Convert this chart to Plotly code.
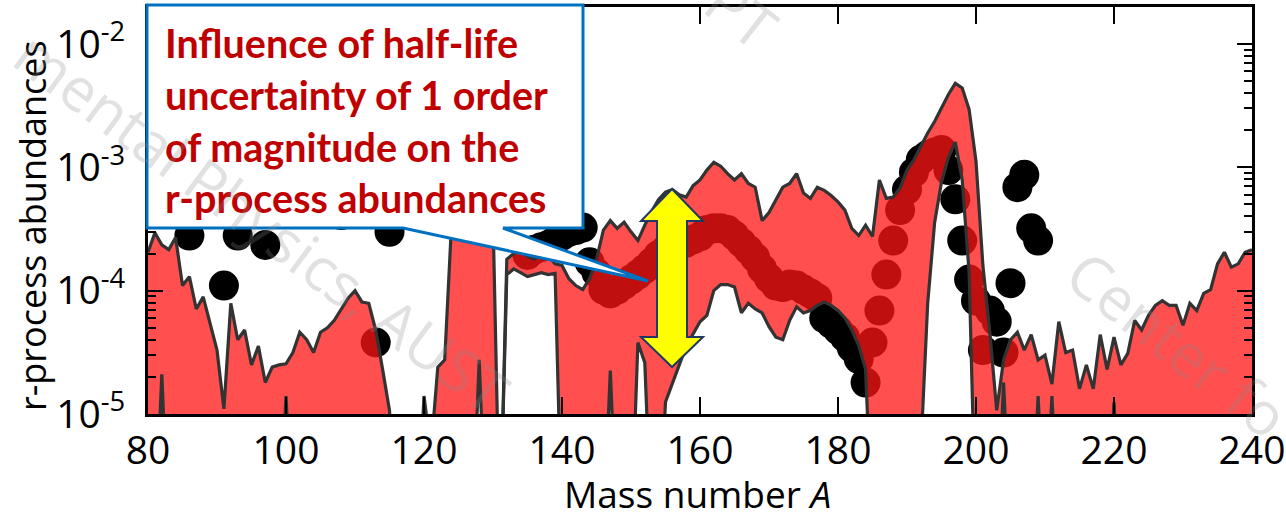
import plotly.graph_objects as go

# ---------------- data ----------------
mass_numbers = list(range(80, 241))

# upper edge of the abundance band (half-lives divided by 10)
upper = [
    2.05e-4, 2.95e-4, 2.35e-4, 2.15e-4, 2.7e-4, 1.1e-4, 1.3e-4, 7.1e-5, 8.9e-5, 5.5e-5,   # 80-89
    3.3e-5, 1.1e-5, 7.9e-5, 4.0e-5, 4.8e-5, 2.5e-5, 3.55e-5, 1.8e-5, 2.4e-5, 2.5e-5,    # 90-99
    2.55e-5, 3.15e-5, 4.6e-5, 4.0e-5, 3.15e-5, 4.6e-5, 5.0e-5, 5.75e-5, 7.1e-5, 8.7e-5, # 100-109
    1.0e-4, 8.1e-5, 7.9e-5, 4.8e-5, 2.3e-5, 1.07e-5, 1e-6, 1e-6, 1e-6, 1e-6,            # 110-119
    1.4e-5, 5e-6, 2.4e-5, 2.75e-5, 3.55e-4, 6e-4, 8e-4, 1.1e-3, 1.4e-3, 1.0e-3,         # 120-129
    4e-4, 1e-6, 1.8e-4, 2.0e-4, 2.15e-4, 1.9e-4, 1.8e-4, 2.0e-4, 1.9e-4, 1.65e-4,       # 130-139
    1.6e-4, 1.25e-4, 1.1e-4, 1.02e-4, 1.25e-4, 1.8e-4, 3.1e-4, 3.7e-4, 3.2e-4, 3.6e-4,  # 140-149
    3.0e-4, 2.55e-4, 3.4e-4, 4.4e-4, 5.5e-4, 6.3e-4, 6.6e-4, 6.0e-4, 5.75e-4, 7.1e-4,  # 150-159
    7.9e-4, 9.5e-4, 1.1e-3, 1.02e-3, 8.9e-4, 7.9e-4, 8.9e-4, 7.4e-4, 6.9e-4, 3.7e-4,   # 160-169
    4.3e-4, 5.5e-4, 6.9e-4, 7.4e-4, 8.9e-4, 6.2e-4, 5.6e-4, 6.9e-4, 6.5e-4, 5.9e-4,    # 170-179
    5.25e-4, 4.5e-4, 3.2e-4, 2.8e-4, 3.4e-4, 2.75e-4, 7.9e-4, 5.6e-4, 5.75e-4, 6.8e-4, # 180-189
    9.5e-4, 1.15e-3, 1.5e-3, 1.9e-3, 2.35e-3, 3.0e-3, 3.9e-3, 4.8e-3, 4.4e-3, 2.95e-3, # 190-199
    1.12e-3, 1.6e-4, 4.6e-5, 1.07e-5, 2.75e-5, 4.0e-5, 4.6e-5, 3.3e-5, 4.4e-5, 2.75e-5, # 200-209
    3.0e-5, 1.75e-5, 5.6e-5, 3.15e-5, 3.3e-5, 1.6e-5, 2.5e-5, 1.6e-5, 4.4e-5, 2.3e-5,  # 210-219
    4.2e-5, 2.5e-5, 3.1e-5, 5.75e-5, 4.8e-5, 6.3e-5, 7.6e-5, 8.3e-5, 7.6e-5, 7.6e-5,   # 220-229
    5.25e-5, 7.9e-5, 6.9e-5, 9.5e-5, 1.02e-4, 1.65e-4, 2.05e-4, 1.55e-4, 1.65e-4, 2.05e-4, # 230-239
    2.15e-4,                                                                              # 240
]

# lower edge of the abundance band (half-lives multiplied by 10)
lower = [
    1e-6, 1e-6, 2.1e-5, 1e-6, 1e-6, 1e-6, 1e-6, 1e-6, 1e-6, 1e-6,                       # 80-89
    1e-6, 1e-6, 1e-6, 1e-6, 1e-6, 1e-6, 1e-6, 1e-6, 1e-6, 1e-6,                         # 90-99
    1.4e-5, 1e-6, 1e-6, 1e-6, 1e-6, 1e-6, 1e-6, 1e-6, 1e-6, 1e-6,                       # 100-109
    1e-6, 1e-6, 1e-6, 1e-6, 1e-6, 1e-6, 1e-6, 1e-6, 1e-6, 1e-6,                         # 110-119
    1e-6, 1e-6, 1e-6, 1e-6, 1e-6, 1e-6, 1e-6, 1e-6, 2.75e-5, 1e-6,                      # 120-129
    1e-6, 1e-6, 1.35e-4, 1.5e-4, 1.4e-4, 1.3e-4, 1.35e-4, 1.4e-4, 1.35e-4, 1.38e-4,     # 130-139
    1e-6, 1e-6, 1e-6, 1e-6, 1e-6, 1e-6, 1e-6, 2.25e-5, 1e-6, 1e-6,                      # 140-149
    1e-6, 3.8e-5, 2.6e-5, 1e-6, 1e-6, 1.25e-5, 1.8e-5, 2.5e-5, 3.55e-5, 4.5e-5,         # 150-159
    5.6e-5, 6.3e-5, 1.0e-4, 1.12e-4, 1.12e-4, 1.07e-4, 6.6e-5, 7.9e-5, 7.1e-5, 6.6e-5,  # 160-169
    5.1e-5, 4.2e-5, 4.0e-5, 5.75e-5, 7.4e-5, 6.6e-5, 6.9e-5, 7.6e-5, 8.1e-5, 7.6e-5,    # 170-179
    6.9e-5, 6.0e-5, 4.8e-5, 3.6e-5, 2.3e-5, 1e-6, 1e-6, 1e-6, 1e-6, 1e-6,               # 180-189
    1e-6, 1e-6, 5e-6, 7.9e-5, 3.55e-4, 7.6e-4, 1.2e-3, 1.6e-3, 7.9e-4, 1.4e-4,          # 190-199
    1e-6, 1e-6, 1e-6, 1e-6, 1.8e-5, 1e-6, 1e-6, 1e-6, 1e-6, 1.4e-5,                     # 200-209
    1e-6, 1.4e-5, 1e-6, 1e-6, 1e-6, 1e-6, 1e-6, 1e-6, 1e-6, 1e-6,                       # 210-219
    1.25e-5, 1e-6, 1e-6, 1e-6, 1e-6, 1e-6, 1e-6, 1e-6, 1e-6, 1e-6,                      # 220-229
    1e-6, 1e-6, 1e-6, 1e-6, 1e-6, 1e-6, 1e-6, 1e-6, 1e-6, 1e-6,                         # 230-239
    1e-6,                                                                                 # 240
]

# solar r-process abundances
solar_A = [86, 91, 93, 97, 108, 113, 115,
           135, 136, 137, 138, 139, 140, 141, 142, 143, 144, 145,
           146, 147, 148, 149, 150, 151, 152, 153, 154, 155, 156, 157, 158, 159,
           160, 161, 162, 163, 164, 165, 166, 167, 168, 169, 170, 171, 172, 173,
           174, 175, 176, 177, 178, 179, 180, 181, 182, 183, 184,
           185, 186, 187, 188, 189, 190, 191, 192, 193, 194, 195, 196, 197, 198,
           199, 200, 201, 202, 203, 204, 205, 206, 207, 208, 209]
solar_Y = [2.8e-4, 1.1e-4, 2.8e-4, 2.35e-4, 4.1e-4, 3.8e-5, 3.0e-4,
           1.95e-4, 2.15e-4, 2.25e-4, 2.35e-4, 2.55e-4, 2.8e-4, 3.0e-4, 3.1e-4, 3.25e-4, 1.7e-4, 1.4e-4,
           1.02e-4, 9.5e-5, 1.02e-4, 1.12e-4, 1.23e-4, 1.35e-4, 1.5e-4, 1.7e-4, 1.95e-4, 2.15e-4,
           2.25e-4, 2.35e-4, 2.45e-4, 2.6e-4,
           2.75e-4, 3.1e-4, 3.2e-4, 3.2e-4, 3.1e-4, 2.8e-4, 2.45e-4, 2.15e-4, 1.85e-4, 1.5e-4,
           1.26e-4, 1.1e-4, 1.07e-4, 1.12e-4,
           1.1e-4, 1.02e-4, 9.5e-5, 8.7e-5, 6.0e-5, 5.4e-5, 4.8e-5, 4.2e-5, 3.45e-5, 2.8e-5, 1.8e-5,
           3.8e-5, 6.9e-5, 1.35e-4, 2.55e-4, 4.5e-4, 6.6e-4, 9.1e-4, 1.15e-3, 1.26e-3, 1.32e-3,
           1.38e-3, 9.5e-4, 5.5e-4, 2.55e-4,
           1.23e-4, 8.3e-5, 3.3e-5, 6.9e-5, 5.6e-5, 3.15e-5, 1.15e-4, 6.9e-4, 8.7e-4, 3.2e-4, 2.55e-4]

x_ticks = [80, 100, 120, 140, 160, 180, 200, 220, 240]
y_ticks = [1e-5, 1e-4, 1e-3, 1e-2]
y_tick_text = ["10<sup>-5</sup>", "10<sup>-4</sup>", "10<sup>-3</sup>", "10<sup>-2</sup>"]

callout_lines = [
    "Influence of half-life",
    "uncertainty of 1 order",
    "of magnitude on the",
    "r-process abundances",
]

# ---------------- figure geometry ----------------
W, H = 1286, 519
L, R, T, B = 148, 1252, 7, 414          # plot-area edges in pixels
PW, PH = R - L, B - T


def px(x, y):
    """pixel position -> paper coordinates"""
    return (x - L) / PW, (B - y) / PH


def path(points):
    parts = []
    for i, (x, y) in enumerate(points):
        u, v = px(x, y)
        parts.append(("M" if i == 0 else "L") + f"{u:.5f},{v:.5f}")
    return " ".join(parts) + " Z"


fig = go.Figure()

# solar points sit underneath the translucent band
fig.add_trace(go.Scatter(
    x=solar_A, y=solar_Y, mode="markers",
    marker=dict(size=30, color="black", line=dict(width=0)),
    hoverinfo="skip", showlegend=False,
))

fig.add_trace(go.Scatter(
    x=mass_numbers + mass_numbers[::-1], y=upper + lower[::-1],
    mode="lines", fill="toself", fillcolor="rgba(255,20,20,0.75)",
    line=dict(width=0), hoverinfo="skip", showlegend=False,
))

for edge in (upper, lower):
    fig.add_trace(go.Scatter(
        x=mass_numbers, y=edge, mode="lines",
        line=dict(color="#333333", width=3.2),
        hoverinfo="skip", showlegend=False,
    ))

axis_font = dict(family="Open Sans", size=39, color="black")

fig.update_xaxes(
    range=[80, 240], tickvals=x_ticks, ticks="inside", ticklen=17, tickwidth=2,
    tickcolor="black", showline=True, linecolor="black", linewidth=3,
    mirror="allticks", showgrid=False, zeroline=False, tickfont=axis_font,
    automargin=False,
)
fig.update_yaxes(
    type="log", range=[-5, -1.70], tickvals=y_ticks, ticktext=y_tick_text,
    ticks="inside", ticklen=15, tickwidth=2, tickcolor="black",
    minor=dict(ticks="inside", ticklen=8, tickwidth=1.5, tickcolor="black", dtick="D1", showgrid=False),
    showline=True, linecolor="black", linewidth=3, mirror="allticks",
    showgrid=False, zeroline=False, tickfont=axis_font, automargin=False,
    ticklabelstandoff=12,
)

shapes = []
# callout box with pointer
shapes.append(dict(
    type="path", xref="paper", yref="paper", layer="above",
    path=path([(147, 5), (583, 5), (583, 228), (503, 228), (648, 281), (403, 228), (147, 228)]),
    fillcolor="white", line=dict(color="#0070C0", width=3),
))
# yellow double-headed arrow
ax, top, bot = 672, 189, 367
shapes.append(dict(
    type="path", xref="paper", yref="paper", layer="above",
    path=path([(ax, top), (ax + 31, top + 32), (ax + 15, top + 32), (ax + 15, bot - 30),
               (ax + 31, bot - 30), (ax, bot), (ax - 31, bot - 30), (ax - 15, bot - 30),
               (ax - 15, top + 32), (ax - 31, top + 32)]),
    fillcolor="#FFFF00", line=dict(color="#1F3864", width=2),
))

annotations = []
for i, line in enumerate(callout_lines):
    u, v = px(163, 43 + i * 51.5)
    annotations.append(dict(
        x=u, y=v, xref="paper", yref="paper", xanchor="left", yanchor="middle",
        text=f"<b>{line}</b>", showarrow=False,
        font=dict(family="Lato", size=39.5, color="#C00000"),
    ))

# axis titles
u, v = px(697, 493)
annotations.append(dict(x=u, y=v, xref="paper", yref="paper", showarrow=False,
                        xanchor="center", yanchor="middle",
                        text="Mass number <i>A</i>",
                        font=dict(family="Open Sans", size=37, color="black")))
u, v = px(33, 226)
annotations.append(dict(x=u, y=v, xref="paper", yref="paper", showarrow=False,
                        xanchor="center", yanchor="middle",
                        text="r-process abundances", textangle=-90,
                        font=dict(family="Open Sans", size=36, color="black")))

# faint diagonal watermark text
wm_font = dict(family="Open Sans", size=60, color="rgba(140,140,140,0.26)")
for text, cx, cy, ang in [("mental Physics, AUST", 262, 222, 36.5),
                          ("Center fo", 1178, 344, 38),
                          ("PT", 742, 14, 38)]:
    u, v = px(cx, cy)
    annotations.append(dict(x=u, y=v, xref="paper", yref="paper", showarrow=False,
                            xanchor="center", yanchor="middle",
                            text=text, textangle=ang, font=wm_font))

fig.update_layout(
    width=W, height=H,
    margin=dict(l=L, r=W - R, t=T, b=H - B, pad=0),
    paper_bgcolor="white", plot_bgcolor="white",
    shapes=shapes, annotations=annotations, showlegend=False,
)

fig.write_html("out.html")
